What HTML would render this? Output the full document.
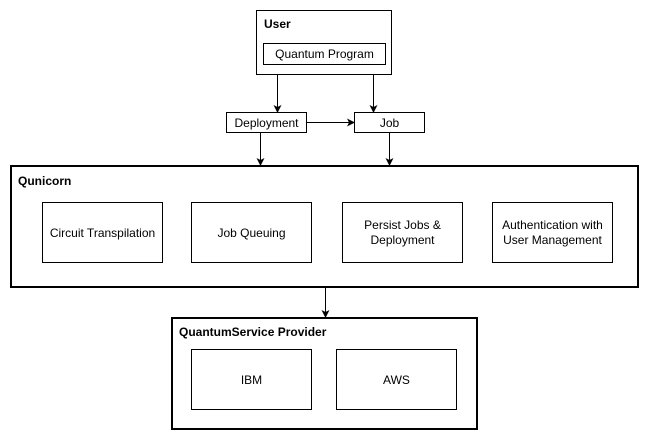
<!DOCTYPE html>
<html><head><style>
body{margin:0;background:#fff;}
svg text{font-family:"Liberation Sans",Arial,sans-serif;font-size:12px;fill:#000;}
</style></head><body>
<svg width="650" height="441" viewBox="0 0 650 441" xmlns="http://www.w3.org/2000/svg">
<defs><marker id="a" markerWidth="8" markerHeight="8" refX="7" refY="4" orient="auto" markerUnits="userSpaceOnUse"><path d="M0,0 L8,4 L0,8 L2,4 z" fill="#000"/></marker></defs>
<g fill="#fff" stroke="#000">
<rect x="256.5" y="10.5" width="135" height="64"/>
<rect x="263.5" y="43.5" width="122" height="21"/>
<rect x="226.5" y="112.5" width="80" height="20"/>
<rect x="354.5" y="112.5" width="70" height="20"/>
<rect x="11" y="166" width="627" height="121" stroke-width="2"/>
<rect x="42.5" y="202.5" width="120" height="60"/>
<rect x="191.5" y="202.5" width="120" height="60"/>
<rect x="342.5" y="202.5" width="120" height="60"/>
<rect x="492.5" y="202.5" width="120" height="60"/>
<rect x="172" y="318" width="305" height="111" stroke-width="2"/>
<rect x="191.5" y="349.5" width="120" height="60"/>
<rect x="336.5" y="349.5" width="120" height="60"/>
</g>
<g stroke="#000" fill="none" marker-end="url(#a)">
<line x1="277.5" y1="75" x2="277.5" y2="112"/>
<line x1="373.5" y1="75" x2="373.5" y2="112"/>
<line x1="307" y1="122.5" x2="354" y2="122.5"/>
<line x1="260.5" y1="133" x2="260.5" y2="165"/>
<line x1="389.5" y1="133" x2="389.5" y2="165"/>
<line x1="325.5" y1="288" x2="325.5" y2="317"/>
</g>
<text x="264" y="28" font-weight="bold">User</text>
<text x="324.5" y="58" text-anchor="middle">Quantum Program</text>
<text x="266.5" y="127" text-anchor="middle">Deployment</text>
<text x="389.5" y="127" text-anchor="middle">Job</text>
<text x="18" y="185" font-weight="bold">Qunicorn</text>
<text x="102.5" y="237" text-anchor="middle">Circuit Transpilation</text>
<text x="251.5" y="237" text-anchor="middle">Job Queuing</text>
<text x="402.5" y="229" text-anchor="middle">Persist Jobs &amp;</text>
<text x="402.5" y="244" text-anchor="middle">Deployment</text>
<text x="552.5" y="229" text-anchor="middle">Authentication with</text>
<text x="552.5" y="244" text-anchor="middle">User Management</text>
<text x="179" y="336" font-weight="bold">QuantumService Provider</text>
<text x="251.5" y="384" text-anchor="middle">IBM</text>
<text x="396.5" y="384" text-anchor="middle">AWS</text>
</svg>
</body></html>
